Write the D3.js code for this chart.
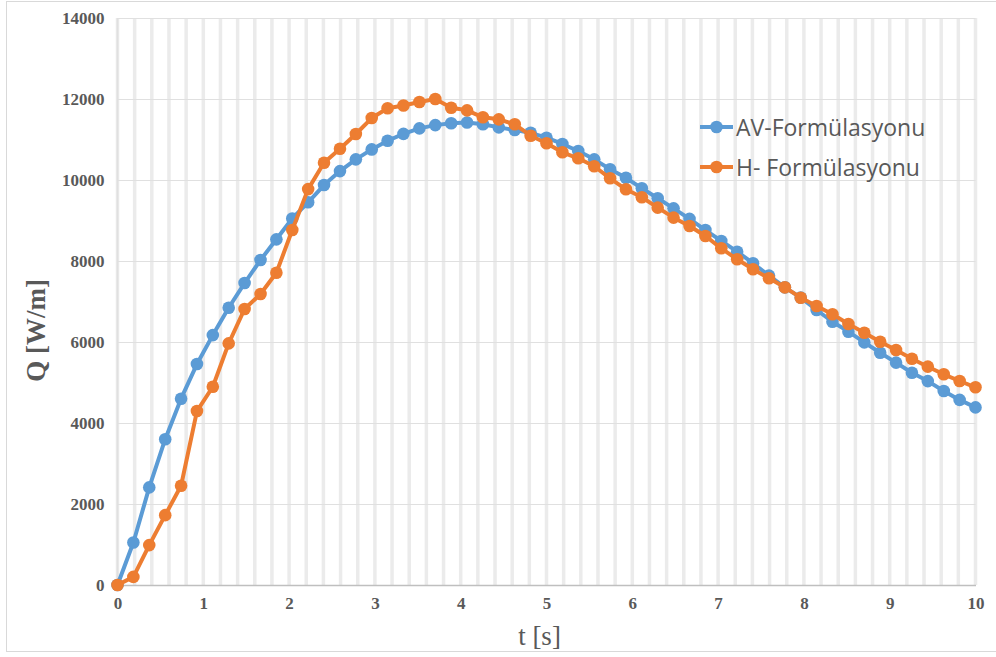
<!DOCTYPE html>
<html>
<head>
<meta charset="utf-8">
<script src="https://cdn.jsdelivr.net/npm/d3@7"></script>
<style>
  html, body { margin: 0; padding: 0; background: #ffffff; }
  svg { display: block; }
  .serif { font-family: "Liberation Serif", "Times New Roman", "DejaVu Serif", serif; }
</style>
</head>
<body>
<svg id="chart" width="996" height="657"></svg>
<script>
// Time samples [s]
const tValues = [0, 0.185, 0.370, 0.556, 0.741, 0.926, 1.111, 1.296, 1.481, 1.667,
  1.852, 2.037, 2.222, 2.407, 2.593, 2.778, 2.963, 3.148, 3.333, 3.519,
  3.704, 3.889, 4.074, 4.259, 4.444, 4.630, 4.815, 5.000, 5.185, 5.370,
  5.556, 5.741, 5.926, 6.111, 6.296, 6.481, 6.667, 6.852, 7.037, 7.222,
  7.407, 7.593, 7.778, 7.963, 8.148, 8.333, 8.519, 8.704, 8.889, 9.074,
  9.259, 9.444, 9.630, 9.815, 10.000];

// Q [W/m], AV formulation
const qAV = [0, 1050, 2410, 3600, 4600, 5455, 6170, 6845, 7455, 8025,
  8535, 9050, 9450, 9875, 10220, 10510, 10755, 10970, 11140, 11275,
  11355, 11400, 11420, 11375, 11300, 11235, 11165, 11045, 10890, 10715,
  10510, 10265, 10055, 9795, 9550, 9300, 9040, 8765, 8495, 8230,
  7945, 7640, 7350, 7095, 6790, 6500, 6255, 5990, 5735, 5490,
  5240, 5035, 4790, 4570, 4385];

// Q [W/m], H formulation
const qH = [0, 200, 985, 1725, 2450, 4295, 4895, 5965, 6815, 7185,
  7710, 8765, 9775, 10425, 10770, 11135, 11530, 11770, 11840, 11925,
  12000, 11785, 11720, 11548, 11498, 11375, 11094, 10906, 10684, 10536,
  10340, 10042, 9770, 9573, 9317, 9070, 8864, 8617, 8313, 8042,
  7795, 7573, 7350, 7094, 6889, 6684, 6444, 6230, 6008, 5802,
  5588, 5391, 5202, 5037, 4881];

const seriesNames = ["AV-Formülasyonu", "H- Formülasyonu"];
const seriesColors = ["#5b9bd5", "#ed7d31"];
const xTicks = [0, 1, 2, 3, 4, 5, 6, 7, 8, 9, 10];
const yTicks = [0, 2000, 4000, 6000, 8000, 10000, 12000, 14000];
const xGridStep = 0.2;

const svg = d3.select("#chart");
const W = 996, H = 657;
const plot = { left: 117.5, right: 975.5, top: 18, bottom: 585 };

const x = d3.scaleLinear().domain([0, 10]).range([plot.left, plot.right]);
const y = d3.scaleLinear().domain([0, 14000]).range([plot.bottom, plot.top]);

// Outer chart frame
svg.append("rect")
  .attr("x", 6.5).attr("y", 1.5)
  .attr("width", W).attr("height", 650)
  .attr("fill", "#ffffff")
  .attr("stroke", "#d9d9d9").attr("stroke-width", 1);

// Vertical gridlines every 0.2 s
const vGrid = d3.range(0, 10 + 1e-9, xGridStep);
svg.append("g")
  .selectAll("line")
  .data(vGrid)
  .join("line")
  .attr("x1", d => x(d)).attr("x2", d => x(d))
  .attr("y1", plot.top).attr("y2", plot.bottom)
  .attr("stroke", "#ebebeb").attr("stroke-width", 3.5);

// Horizontal gridlines
svg.append("g")
  .selectAll("line")
  .data(yTicks.filter(d => d > 0))
  .join("line")
  .attr("x1", plot.left).attr("x2", plot.right)
  .attr("y1", d => Math.round(y(d)) + 0.5).attr("y2", d => Math.round(y(d)) + 0.5)
  .attr("stroke", "#e0e0e0").attr("stroke-width", 1.2);

// Left plot edge
svg.append("line")
  .attr("x1", plot.left).attr("x2", plot.left)
  .attr("y1", plot.top).attr("y2", plot.bottom)
  .attr("stroke", "#e0e0e0").attr("stroke-width", 1.5);

// X axis
const xAxis = d3.axisBottom(x).tickValues(xTicks).tickSize(0).tickPadding(12).tickFormat(d3.format("d"));
const gx = svg.append("g").attr("transform", `translate(0,${plot.bottom})`).call(xAxis);
gx.attr("font-family", null).attr("font-size", null);
gx.select(".domain").attr("stroke", "#bfbfbf").attr("stroke-width", 1.5);
gx.selectAll("text")
  .attr("class", "serif")
  .attr("fill", "#595959")
  .style("font-weight", "bold")
  .style("font-size", "17px");

// Y axis
const yAxis = d3.axisLeft(y).tickValues(yTicks).tickSize(0).tickPadding(13).tickFormat(d3.format("d"));
const gy = svg.append("g").attr("transform", `translate(${plot.left},0)`).call(yAxis);
gy.attr("font-family", null).attr("font-size", null);
gy.select(".domain").remove();
gy.selectAll("text")
  .attr("class", "serif")
  .attr("fill", "#595959")
  .style("font-weight", "bold")
  .style("font-size", "17px");

// Axis titles
svg.append("text")
  .attr("class", "serif")
  .attr("transform", `translate(45,${(plot.top + plot.bottom) / 2 + 29}) rotate(-90)`)
  .attr("text-anchor", "middle")
  .attr("fill", "#595959")
  .style("font-weight", "bold")
  .style("font-size", "27px")
  .text("Q [W/m]");

svg.append("text")
  .attr("class", "serif")
  .attr("x", (plot.left + plot.right) / 2 - 7)
  .attr("y", 645)
  .attr("text-anchor", "middle")
  .attr("fill", "#595959")
  .style("font-size", "27px")
  .text("t [s]");

// Series
const series = [qAV, qH].map((vals, k) => ({
  name: seriesNames[k],
  color: seriesColors[k],
  points: vals.map((v, i) => ({ t: tValues[i], q: v }))
}));

const line = d3.line().x(d => x(d.t)).y(d => y(d.q));

const gs = svg.append("g")
  .selectAll("g")
  .data(series)
  .join("g");

gs.append("path")
  .attr("d", d => line(d.points))
  .attr("fill", "none")
  .attr("stroke", d => d.color)
  .attr("stroke-width", 4)
  .attr("stroke-linejoin", "round");

gs.each(function (s) {
  d3.select(this).selectAll("circle")
    .data(s.points)
    .join("circle")
    .attr("cx", d => x(d.t))
    .attr("cy", d => y(d.q))
    .attr("r", 6.3)
    .attr("fill", s.color);
});

// Legend
const legend = svg.append("g").attr("transform", "translate(700,127)");
const li = legend.selectAll("g")
  .data(series)
  .join("g")
  .attr("transform", (d, i) => `translate(0,${i * 40})`);
li.append("line")
  .attr("x1", 0).attr("x2", 33)
  .attr("stroke", d => d.color).attr("stroke-width", 4);
li.append("circle")
  .attr("cx", 16.5).attr("r", 6.3)
  .attr("fill", d => d.color);
li.append("text")
  .attr("x", 36).attr("y", 8.5)
  .attr("fill", "#595959")
  .style("font-family", "'Open Sans', 'Liberation Sans', sans-serif")
  .style("font-size", "23px")
  .text(d => d.name);
</script>
</body>
</html>
